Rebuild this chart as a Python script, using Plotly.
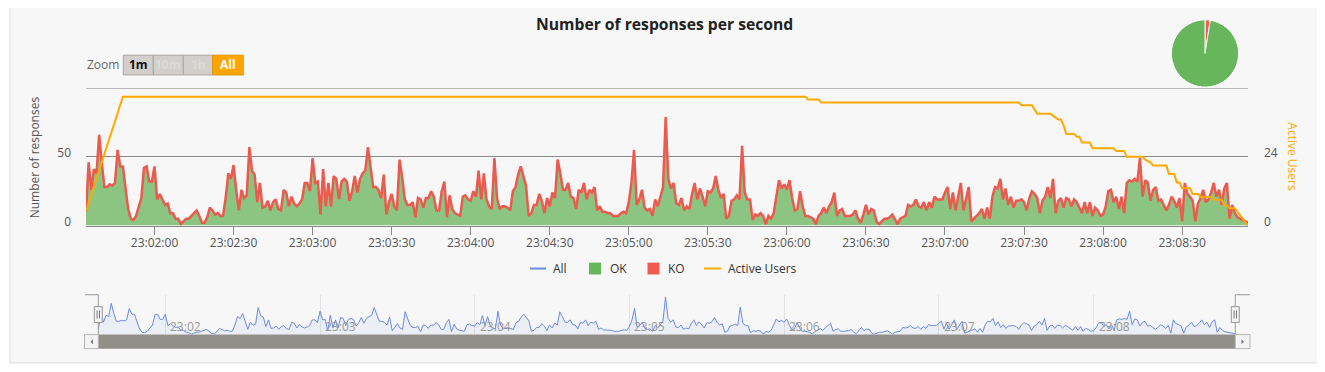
import numpy as np
import pandas as pd
import plotly.graph_objects as go

# The page keeps the browser's default 8px body margin; the figure is sized so the
# page is exactly 1325x372 (no overflow).  Reference pixel coords are mapped with
# an 8px offset.
PAGE_W, PAGE_H = 1325, 372
OFF = 8
FW, FH = PAGE_W - 2 * OFF, PAGE_H - 2 * OFF

# ---------------- data ----------------
start_time = "2024-01-01 23:01:34"

# responses per second (All = OK, KO negligible in the stacked area)
responses = [
    10, 46, 26, 41, 38, 66, 45, 28, 28, 30,
    29, 31, 55, 43, 43, 26, 12, 5, 4, 7,
    14, 20, 42, 43, 32, 32, 43, 19, 23, 19,
    15, 16, 9, 9, 5, 5, 1, 3, 5, 5,
    7, 9, 11, 7, 2, 2, 6, 13, 11, 8,
    9, 7, 7, 20, 38, 34, 44, 26, 11, 26,
    20, 22, 57, 40, 37, 17, 31, 13, 14, 18,
    11, 17, 19, 12, 11, 26, 24, 14, 21, 16,
    14, 16, 19, 31, 31, 25, 49, 31, 32, 8,
    41, 14, 31, 14, 36, 34, 19, 32, 34, 32,
    18, 25, 36, 24, 34, 38, 40, 57, 43, 28,
    28, 26, 20, 37, 8, 17, 23, 14, 11, 48,
    35, 19, 15, 15, 17, 6, 20, 19, 13, 20,
    20, 25, 21, 11, 11, 25, 32, 6, 22, 12,
    9, 8, 7, 21, 22, 19, 18, 25, 21, 40,
    19, 38, 19, 14, 12, 49, 20, 12, 14, 14,
    13, 11, 25, 28, 37, 43, 36, 29, 7, 9,
    15, 15, 23, 18, 9, 20, 14, 24, 20, 48,
    38, 26, 26, 31, 21, 20, 12, 26, 24, 31,
    19, 26, 24, 28, 11, 14, 10, 10, 9, 9,
    7, 7, 7, 9, 10, 9, 17, 31, 55, 15,
    19, 26, 13, 11, 12, 7, 19, 14, 21, 28,
    79, 34, 27, 31, 16, 15, 20, 11, 14, 12,
    23, 31, 19, 27, 21, 14, 25, 24, 27, 36,
    26, 20, 23, 5, 7, 18, 19, 22, 19, 58,
    24, 19, 19, 4, 8, 7, 9, 7, 1, 7,
    5, 9, 21, 33, 27, 30, 26, 33, 20, 11,
    12, 25, 14, 7, 7, 6, 5, 1, 7, 9,
    13, 9, 14, 17, 24, 7, 11, 12, 7, 7,
    7, 8, 11, 5, 2, 8, 15, 8,
    12, 11, 3, 1, 3, 5, 5, 6, 8, 5,
    1, 5, 6, 7, 15, 14, 15, 19, 14, 13,
    17, 11, 17, 13, 21, 19, 19, 19, 24, 28,
    12, 24, 11, 20, 31, 11, 20, 28, 3, 5,
    7, 9, 12, 5, 13, 5, 21, 28, 27, 34,
    19, 27, 15, 21, 13, 18, 18, 19, 17, 11,
    20, 25, 23, 20, 9, 18, 21, 28, 20, 34,
    9, 18, 20, 13, 20, 19, 14, 19, 17, 13,
    9, 17, 9, 17, 7, 13, 11, 7, 8, 14,
    25, 26, 17, 21, 12, 21, 9, 31, 33, 32,
    34, 32, 49, 21, 33, 31, 18, 26, 28, 18,
    19, 15, 11, 15, 21, 18, 13, 20, 3, 31,
    23, 21, 18, 3, 16, 20, 26, 17, 19, 24,
    31, 21, 26, 15, 27, 31, 5, 15, 9, 6,
    5, 4, 3, 2,
]

# active users: change points (seconds since start, users)
users_sec = [0, 14, 273, 274, 278, 279, 354, 355, 359, 361,
             366, 369, 370, 371, 372, 375, 376, 377, 378, 381,
             382, 390, 391, 394, 395, 401, 402, 404, 405, 410,
             411, 413, 414, 415, 416, 419, 420, 422, 423, 427,
             428, 431, 432, 433, 434, 436, 441]
users_val = [5, 45, 45, 44, 44, 43, 43, 42, 42, 39,
             39, 37, 37, 35, 32, 32, 31, 31, 29, 29,
             27, 27, 26, 26, 24, 24, 23, 22, 21, 21,
             18, 18, 15, 15, 13, 13, 11, 11, 10, 10,
             9, 9, 7, 7, 6, 6, 0]

pie_labels = ["KO", "OK"]
pie_values = [2.5, 97.5]

left_ticks = [0, 50, 100]
left_ticktext = ["0", "50", ""]
right_ticks = [0, 24, 48]
right_ticktext = ["0", "24", ""]

nav_tick_times = ["23:02", "23:03", "23:04", "23:05", "23:06", "23:07", "23:08"]

legend_items = ["All", "OK", "KO", "Active Users"]
zoom_buttons = ["1m", "10m", "1h", "All"]

# ---------------- colours ----------------
C_OK_FILL = "#8bc581"
C_KO = "#eb5a4e"
C_OK_LEG = "#68b65c"
C_KO_LEG = "#f15b4f"
C_USERS = "#ffa900"
C_ALL = "#6b8ae2"
C_GRID = "#8a8a8a"
FONT = "Open Sans"

t0 = pd.Timestamp(start_time)
times = t0 + pd.to_timedelta(np.arange(len(responses)), unit="s")
users_times = t0 + pd.to_timedelta(np.array(users_sec), unit="s")
day = t0.strftime("%Y-%m-%d")


def X(p):
    return (p - OFF) / FW


def Y(p):
    return 1 - (p - OFF) / FH


fig = go.Figure()

# main chart
fig.add_trace(go.Scatter(x=times, y=responses, mode="lines", fill="tozeroy",
                         fillcolor=C_OK_FILL, line=dict(color=C_OK_FILL, width=0),
                         name="OK", hoverinfo="skip", xaxis="x", yaxis="y"))
fig.add_trace(go.Scatter(x=times, y=responses, mode="lines",
                         line=dict(color=C_KO, width=2.5),
                         name="KO", hoverinfo="skip", xaxis="x", yaxis="y"))
fig.add_trace(go.Scatter(x=users_times, y=users_val, mode="lines",
                         line=dict(color=C_USERS, width=2),
                         name="Active Users", hoverinfo="skip", xaxis="x", yaxis="y3"))

# navigator
fig.add_trace(go.Scatter(x=times, y=responses, mode="lines", fill="tozeroy",
                         fillcolor="rgba(107,138,226,0.08)",
                         line=dict(color=C_ALL, width=1),
                         name="All", hoverinfo="skip", xaxis="x2", yaxis="y2"))

# pie
fig.add_trace(go.Pie(labels=pie_labels, values=pie_values, sort=False,
                     direction="counterclockwise", rotation=0,
                     marker=dict(colors=[C_KO_LEG, C_OK_LEG], line=dict(color="white", width=1)),
                     textinfo="none", hoverinfo="skip", showlegend=False,
                     domain=dict(x=[X(1171), X(1239)], y=[Y(88), Y(20)])))

xr = [times[0], times[-1]]

shapes = []
annotations = []

# frame
shapes.append(dict(type="rect", xref="paper", yref="paper", x0=X(10), x1=X(1318), y0=Y(367), y1=Y(5),
                   fillcolor="#f7f7f7", line=dict(color="#dcdcdc", width=1), layer="below"))

# top grid line (100 / 48)
shapes.append(dict(type="line", xref="x domain", yref="y", x0=0, x1=1, y0=100, y1=100,
                   line=dict(color=C_GRID, width=1), layer="below"))

# title
annotations.append(dict(text="<b>Number of responses per second</b>", x=X(664.5), y=Y(24), xref="paper", yref="paper",
                        showarrow=False, font=dict(size=15.7, color="#222", family=FONT), xanchor="center", yanchor="middle"))

# axis titles
annotations.append(dict(text="Number of responses", x=X(34), y=Y(159), xref="paper", yref="paper",
                        showarrow=False, textangle=-90, font=dict(size=12, color="#555", family=FONT),
                        xanchor="center", yanchor="middle"))
annotations.append(dict(text="Active Users", x=X(1293), y=Y(158), xref="paper", yref="paper",
                        showarrow=False, textangle=90, font=dict(size=12, color=C_USERS, family=FONT),
                        xanchor="center", yanchor="middle"))

# zoom buttons
annotations.append(dict(text="Zoom", x=X(85), y=Y(65.5), xref="paper", yref="paper", showarrow=False,
                        font=dict(size=12, color="#666", family=FONT), xanchor="left", yanchor="middle"))
btn_x = [123.3, 153.3, 183.3, 212.7, 243.3]
for i, lab in enumerate(zoom_buttons):
    sel = lab == "All"
    shapes.append(dict(type="rect", xref="paper", yref="paper", x0=X(btn_x[i]), x1=X(btn_x[i + 1]),
                       y0=Y(75.7), y1=Y(55.7),
                       fillcolor="#ffa500" if sel else "#d3cfcc",
                       line=dict(color="#e59500" if sel else "#a9a6a3", width=1)))
    if sel:
        col = "white"
    elif lab == "1m":
        col = "#111"
    else:
        col = "#dedad7"
    annotations.append(dict(text="<b>%s</b>" % lab, x=X((btn_x[i] + btn_x[i + 1]) / 2), y=Y(65.5),
                            xref="paper", yref="paper",
                            showarrow=False, font=dict(size=12, color=col, family=FONT),
                            xanchor="center", yanchor="middle"))

# legend (manual, Highcharts style)
ly = 271.5
shapes.append(dict(type="line", xref="paper", yref="paper", x0=X(530), x1=X(546), y0=Y(ly), y1=Y(ly),
                   line=dict(color=C_ALL, width=2)))
shapes.append(dict(type="rect", xref="paper", yref="paper", x0=X(589), x1=X(601), y0=Y(277.5), y1=Y(265.5),
                   fillcolor=C_OK_LEG, line=dict(width=0)))
shapes.append(dict(type="rect", xref="paper", yref="paper", x0=X(647.5), x1=X(659.5), y0=Y(277.5), y1=Y(265.5),
                   fillcolor=C_KO_LEG, line=dict(width=0)))
shapes.append(dict(type="line", xref="paper", yref="paper", x0=X(704), x1=X(721), y0=Y(ly), y1=Y(ly),
                   line=dict(color=C_USERS, width=2)))
for lab, lx in zip(legend_items, [551, 608, 666.5, 726]):
    annotations.append(dict(text=lab, x=X(lx), y=Y(ly), xref="paper", yref="paper", showarrow=False,
                            font=dict(size=12, color="#333", family=FONT), xanchor="left", yanchor="middle"))

# navigator labels
for lab in nav_tick_times:
    annotations.append(dict(text=lab, x=pd.Timestamp(day + " " + lab + ":00"), y=Y(330.5), xref="x2", yref="paper",
                            showarrow=False, xshift=3, font=dict(size=12, color="#999", family=FONT),
                            xanchor="left", yanchor="middle"))

# navigator outline
for (a, b, c, d) in [(85, 298, 98.3, 298), (98.3, 298, 98.3, 338), (1235.3, 298, 1235.3, 338), (1235.3, 298, 1250, 298)]:
    shapes.append(dict(type="line", xref="paper", yref="paper", x0=X(a), y0=Y(b), x1=X(c), y1=Y(d),
                       line=dict(color="#999", width=1)))

# scrollbar
shapes.append(dict(type="rect", xref="paper", yref="paper", x0=X(98.3), x1=X(1235.3), y0=Y(352.5), y1=Y(338.3),
                   fillcolor="#918f8a", line=dict(width=0)))
for (a, b) in [(84.5, 98.3), (1235.3, 1250)]:
    shapes.append(dict(type="rect", xref="paper", yref="paper", x0=X(a), x1=X(b), y0=Y(352.5), y1=Y(338.3),
                       fillcolor="#f4f4f4", line=dict(color="#b5b5b5", width=1)))
shapes.append(dict(type="path", xref="paper", yref="paper",
                   path="M %f %f L %f %f L %f %f Z" % (X(93), Y(343), X(90.5), Y(345.5), X(93), Y(348)),
                   fillcolor="#777", line=dict(width=0)))
shapes.append(dict(type="path", xref="paper", yref="paper",
                   path="M %f %f L %f %f L %f %f Z" % (X(1241.5), Y(343), X(1244), Y(345.5), X(1241.5), Y(348)),
                   fillcolor="#777", line=dict(width=0)))

# navigator handles
for cx in [98.3, 1235.3]:
    shapes.append(dict(type="rect", xref="paper", yref="paper", x0=X(cx - 4), x1=X(cx + 4), y0=Y(326), y1=Y(310),
                       fillcolor="#f2f2f2", line=dict(color="#999", width=1)))
    for dx in [-1.2, 1.2]:
        shapes.append(dict(type="line", xref="paper", yref="paper", x0=X(cx + dx), x1=X(cx + dx), y0=Y(322), y1=Y(314),
                           line=dict(color="#777", width=1)))

fig.update_layout(
    width=FW, height=FH, autosize=False,
    margin=dict(l=0, r=0, t=0, b=0),
    paper_bgcolor="white", plot_bgcolor="rgba(0,0,0,0)",
    showlegend=False,
    font=dict(family=FONT, size=12, color="#555"),
    shapes=shapes, annotations=annotations,
    xaxis=dict(domain=[X(86), X(1248)], range=xr, type="date", anchor="y",
               tickformat="%H:%M:%S", tick0=day + " 23:02:00", dtick=30000,
               ticks="outside", ticklen=8, tickcolor="#888", showline=True, linecolor="#888",
               showgrid=False, zeroline=False, tickfont=dict(size=12, color="#555", family=FONT),
               ticklabelstandoff=-2, fixedrange=True),
    yaxis=dict(domain=[Y(228), Y(89)], range=[0, 100], tickvals=left_ticks, ticktext=left_ticktext,
               showgrid=True, gridcolor=C_GRID, gridwidth=1, zeroline=False, showline=False,
               tickfont=dict(size=12, color="#555", family=FONT), ticklabelstandoff=14, ticklabelshift=-4,
               fixedrange=True),
    yaxis3=dict(overlaying="y", side="right", anchor="x", range=[0, 48], tickvals=right_ticks,
                ticktext=right_ticktext, showgrid=False, zeroline=False, showline=False,
                tickfont=dict(size=12, color="#555", family=FONT), ticklabelstandoff=15, ticklabelshift=-4,
                fixedrange=True),
    xaxis2=dict(domain=[X(98.3), X(1235.3)], range=xr, type="date", anchor="y2",
                showticklabels=False, showgrid=True, gridcolor="#e2e2e2", tick0=day + " 23:02:00", dtick=60000,
                zeroline=False, showline=False, ticks="", fixedrange=True),
    yaxis2=dict(domain=[Y(338.3), Y(298)], range=[0, 84], visible=False, fixedrange=True),
)

fig.write_html("out.html", config={"displayModeBar": False})
